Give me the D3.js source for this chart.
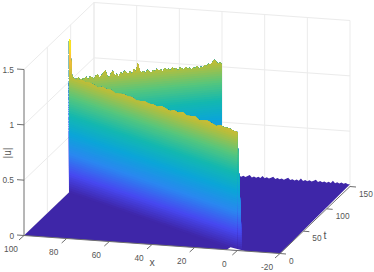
<!DOCTYPE html>
<html>
<head>
<meta charset="utf-8">
<script src="https://cdn.jsdelivr.net/npm/d3@7"></script>
<style>
	body { margin: 0; background: #fff; }
	text { font-family: "Liberation Sans", sans-serif; fill: #555; }
</style>
</head>
<body>
<script>
// Tick values
var xTicks = [100, 80, 60, 40, 20, 0, -20];
var tTicks = [0, 50, 100, 150];
var zTicks = [0, 0.5, 1, 1.5];

// Crest height along the outgoing front, x = 100 down to 0 every 2.5
var frontZ = [1.03, 1.05, 1.04, 1.06, 1.05, 1.06, 1.05, 1.04, 1.06, 1.05, 1.06, 1.04, 1.05, 1.06, 1.05,
	1.06, 1.04, 1.05, 1.06, 1.05, 1.06, 1.05, 1.07, 1.06, 1.05, 1.07, 1.06, 1.08, 1.06, 1.07,
	1.08, 1.06, 1.07, 1.08, 1.07, 1.06, 1.08, 1.07, 1.08, 1.07, 1.07];

// Reflection spike at the x = 100 wall
var spikeX = [100, 99.7, 99.3, 98.9, 98.5, 98];
var spikeZ = [1.37, 1.39, 1.38, 1.25, 1.12, 1.05];

// Crest height along the reflected front, x = 100 down to 40 every 0.75
var rearZ = [1.03, 1.01, 1.03, 1.0, 1.02, 1.03, 1.0, 1.02, 1.01, 1.03, 1.0, 1.03, 1.02, 1.0, 1.03, 1.04,
	1.01, 1.03, 1.05, 1.07, 1.02, 1.0, 1.04, 1.06, 1.01, 1.03, 1.0, 1.04, 1.02, 1.05, 1.03, 1.02,
	1.04, 1.01, 1.06, 1.03, 1.11, 1.04, 1.02, 1.03, 1.01, 1.04, 1.02, 1.01, 1.03, 1.02, 1.04, 1.02,
	1.03, 1.01, 1.04, 1.02, 1.03, 1.01, 1.04, 1.02, 1.03, 1.0, 1.03, 1.02, 1.01, 1.03, 1.01, 1.02,
	1.0, 1.02, 1.01, 1.03, 1.0, 1.02, 1.01, 1.03, 1.02, 1.04, 1.03, 1.05, 1.07, 1.05, 1.03, 1.04, 1.02];

// Noise on the floor at t = 150, x = 40 down to -20 every 1
var floorZ = [0.03, 0.02, 0.03, 0.04, 0.02, 0.03, 0.02, 0.04, 0.03, 0.02, 0.03, 0.02, 0.03, 0.04, 0.02, 0.03,
	0.02, 0.03, 0.02, 0.04, 0.02, 0.03, 0.02, 0.03, 0.04, 0.02, 0.03, 0.02, 0.03, 0.02, 0.03, 0.04,
	0.02, 0.03, 0.02, 0.03, 0.02, 0.04, 0.02, 0.03, 0.02, 0.03, 0.02, 0.03, 0.04, 0.02, 0.03, 0.02,
	0.03, 0.02, 0.03, 0.02, 0.04, 0.02, 0.03, 0.02, 0.03, 0.02, 0.03, 0.02, 0.02];

// Small gap in the surface at the start of the wave
var gapX = [5, 4.5, -3.6];
var gapT = [0, 5.9, 0];

var parulaStops = [0, 0.12, 0.25, 0.38, 0.5, 0.62, 0.75, 0.875, 1];
var parulaColors = ["#3e26a8", "#4748f0", "#2a87f0", "#0ba5d8", "#13b8b0", "#55c67d", "#bcbd38", "#fdbd3c", "#f9fb15"];

var w = 374;
var h = 272;
var zMax = 1.39;

// Orthographic view, one scale per screen contribution
var pxX = d3.scaleLinear().domain([100, -20]).range([24, 280]);
var pxT = d3.scaleLinear().domain([0, 150]).range([0, 70]);
var pyX = d3.scaleLinear().domain([100, -20]).range([235.5, 253.5]);
var pyT = d3.scaleLinear().domain([0, 150]).range([0, -67]);
var pyZ = d3.scaleLinear().domain([0, 1.5]).range([0, -166]);

function P(x, t, z) {
	return [pxX(x) + pxT(t), pyX(x) + pyT(t) + pyZ(z)];
}

var color = d3.scaleLinear()
	.domain(parulaStops.map(function (d) { return d * zMax; }))
	.range(parulaColors);

// Where the two fronts run in the (x, t) plane
var frontT = d3.scaleLinear().domain([0, 100]).range([0, 96.4]);
var rearT = d3.scaleLinear().domain([100, 40]).range([96.4, 150]);
var sideX = d3.scaleLinear().domain([0, 1.07]).range([-2.3, 0]);

var bands = d3.range(0, zMax, 0.02);
var line = d3.line();

var svg = d3.select("body").append("svg")
	.attr("width", w)
	.attr("height", h)
	.style("display", "block");

// Back planes
var grid = svg.append("g")
	.attr("fill", "none")
	.attr("stroke", "#ebebeb")
	.attr("stroke-width", 1);

zTicks.forEach(function (z) {
	grid.append("path").attr("d", line([P(100, 0, z), P(100, 150, z), P(-20, 150, z)]));
});
tTicks.slice(1).forEach(function (t) {
	grid.append("path").attr("d", line([P(100, t, 0), P(100, t, 1.5)]));
});
xTicks.forEach(function (x) {
	grid.append("path").attr("d", line([P(x, 150, 0), P(x, 150, 1.5)]));
});

// Floor
var floorEdge = floorZ.map(function (z, i) { return P(40 - i, 150, z); }).reverse();
svg.append("path")
	.attr("d", line([P(100, 0, 0), P(-20, 0, 0)].concat(floorEdge, [P(100, 150, 0)])) + "Z")
	.attr("fill", color(0));

// Draws a wall as height bands; each band runs up to the crest and the next paints over it
function drawWall(columns) {
	var g = svg.append("g");
	bands.forEach(function (lo) {
		if (!columns.some(function (c) { return c.z > lo; })) return;
		var lower = columns.map(function (c) { return P(c.x, c.t, Math.min(lo, c.z)); });
		var upper = columns.map(function (c) { return P(c.x, c.t, c.z); }).reverse();
		g.append("path")
			.attr("d", line(lower.concat(upper)) + "Z")
			.attr("fill", color(lo + 0.01));
	});
}

var rearColumns = rearZ.map(function (z, i) {
	var x = 100 - i * 0.75;
	return { x: x, t: rearT(x), z: z };
});
drawWall(rearColumns);

// Right side of the outgoing front
var side = svg.append("g");
bands.forEach(function (lo) {
	if (lo > 1.07) return;
	side.append("path")
		.attr("d", line([P(0, 0, lo), P(0, 0, 1.07), P(sideX(1.07), 0, 1.07), P(sideX(lo), 0, lo)]) + "Z")
		.attr("fill", color(lo + 0.01));
});

var frontColumns = spikeX.map(function (x, i) {
	return { x: x, t: frontT(x), z: spikeZ[i] };
}).concat(frontZ.map(function (z, i) {
	var x = 100 - i * 2.5;
	return { x: x, t: frontT(x), z: z };
}).filter(function (c) { return c.x < 98; }));
drawWall(frontColumns);

svg.append("path")
	.attr("d", line(gapX.map(function (x, i) { return P(x, gapT[i], 0); })) + "Z")
	.attr("fill", "#fff");

// Axes
var axes = svg.append("g")
	.attr("fill", "none")
	.attr("stroke", "#6e6e6e")
	.attr("stroke-width", 1);

axes.append("path").attr("d", line([P(100, 0, 1.5), P(100, 0, 0), P(-20, 0, 0), P(-20, 150, 0)]));

axes.selectAll(".zt").data(zTicks).enter().append("path")
	.attr("class", "zt")
	.attr("d", function (z) {
		var p = P(100, 0, z);
		return line([p, [p[0] - 7, p[1] - 0.5]]);
	});
axes.selectAll(".xt").data(xTicks).enter().append("path")
	.attr("class", "xt")
	.attr("d", function (x) {
		var p = P(x, 0, 0);
		return line([p, [p[0] - 5, p[1] + 4.5]]);
	});
axes.selectAll(".tt").data(tTicks).enter().append("path")
	.attr("class", "tt")
	.attr("d", function (t) {
		var p = P(-20, t, 0);
		return line([p, [p[0] + 6, p[1] + 0.5]]);
	});

// Tick labels
var labels = svg.append("g").attr("font-size", 8.3);

labels.selectAll(".zl").data(zTicks).enter().append("text")
	.attr("class", "zl")
	.attr("text-anchor", "end")
	.attr("x", function (z) { return P(100, 0, z)[0] - 10; })
	.attr("y", function (z) { return P(100, 0, z)[1] + 3; })
	.text(function (d) { return d; });

labels.selectAll(".xl").data(xTicks).enter().append("text")
	.attr("class", "xl")
	.attr("text-anchor", "middle")
	.attr("x", function (x) { return P(x, 0, 0)[0] - 13; })
	.attr("y", function (x) { return P(x, 0, 0)[1] + 16; })
	.text(function (d) { return d; });

labels.selectAll(".tl").data(tTicks).enter().append("text")
	.attr("class", "tl")
	.attr("x", function (t) { return P(-20, t, 0)[0] + 9; })
	.attr("y", function (t) { return P(-20, t, 0)[1] + 10; })
	.text(function (d) { return d; });

// Axis labels
svg.append("text").attr("x", 152).attr("y", 266).attr("font-size", 10.5).attr("text-anchor", "middle").text("x");
svg.append("text").attr("x", 325).attr("y", 239).attr("font-size", 10.5).attr("text-anchor", "middle").text("t");
svg.append("text")
	.attr("transform", "translate(11,153) rotate(-90)")
	.attr("font-size", 10)
	.attr("text-anchor", "middle")
	.text("|u|");
</script>
</body>
</html>
